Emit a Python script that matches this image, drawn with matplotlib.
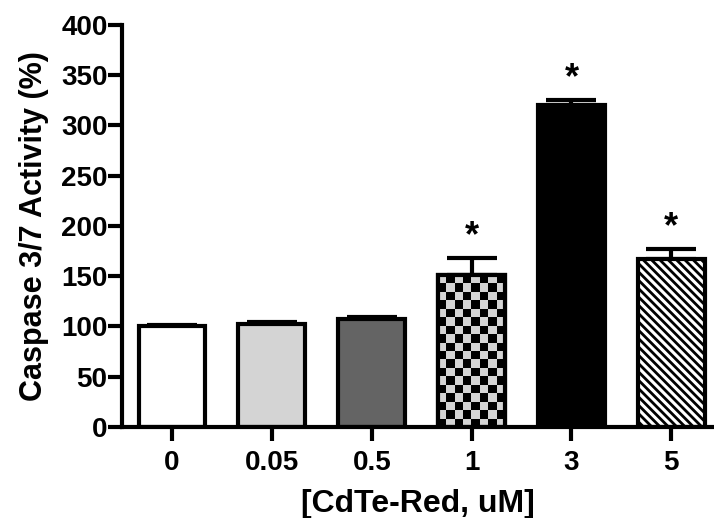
import numpy as np
import matplotlib
matplotlib.use("Agg")
import matplotlib.pyplot as plt

categories = ["0", "0.05", "0.5", "1", "3", "5"]
values = [100, 102, 107, 151, 320, 167]
errors = [1, 2, 2, 17, 5, 10]
significant = [False, False, False, True, True, True]

plt.rcParams['font.family'] = ['Liberation Sans', 'DejaVu Sans']
plt.rcParams['font.weight'] = 'bold'
plt.rcParams['hatch.linewidth'] = 2.0

fig = plt.figure(figsize=(7.14, 5.18), dpi=100)
ax = fig.add_axes([0.171, 0.176, 0.828, 0.776])

x = np.arange(len(categories))
faces = ['white', '#d4d4d4', '#646464', '#d4d4d4', 'black', 'white']
hatches = [None, None, None, None, None, '\\\\\\\\']
bars = ax.bar(x, values, width=0.67, color=faces, edgecolor='black', linewidth=3, zorder=2)
for b, h in zip(bars, hatches):
    if h:
        b.set_hatch(h)

# checkerboard for bar 3
b = bars[3]
bx, by = b.get_x(), b.get_y()
bw, bh = b.get_width(), b.get_height()
nx, ny = 8, 18
checker = (np.indices((ny, nx)).sum(axis=0) % 2).astype(float)
cmap = matplotlib.colors.ListedColormap(['#d4d4d4', 'black'])
im = ax.imshow(checker, cmap=cmap, extent=[bx, bx + bw, by, by + bh],
               aspect='auto', interpolation='nearest', zorder=2.5, origin='upper')
im.set_clip_path(b)
ax.bar([x[3]], [values[3]], width=0.67, color='none', edgecolor='black', linewidth=3, zorder=3)

ax.errorbar(x, values, yerr=[np.zeros(len(errors)), errors], fmt='none',
            ecolor='black', elinewidth=3, capsize=18, capthick=3, zorder=1)

for xi, v, e, s in zip(x, values, errors, significant):
    if s:
        ax.text(xi, v + e + 21, '*', ha='center', va='center', fontsize=26, fontweight='bold')

ax.set_xlim(-0.5, 5.42)
ax.set_ylim(0, 400)
ax.set_yticks(np.arange(0, 401, 50))
ax.set_xticks(x)
ax.set_xticklabels(categories)
for sp in ['top', 'right']:
    ax.spines[sp].set_visible(False)
for sp in ['left', 'bottom']:
    ax.spines[sp].set_linewidth(3)
ax.tick_params(axis='y', length=10, width=3, labelsize=20, pad=0.5)
ax.tick_params(axis='x', length=10, width=3, labelsize=20, pad=7)
for lab in ax.get_xticklabels() + ax.get_yticklabels():
    lab.set_fontweight('bold')
ax.set_ylabel('Caspase 3/7 Activity (%)', fontsize=22, fontweight='bold', labelpad=9)
ax.set_xlabel('[CdTe-Red, uM]', fontsize=23, fontweight='bold', labelpad=9)

fig.savefig('out.png', dpi=100)
